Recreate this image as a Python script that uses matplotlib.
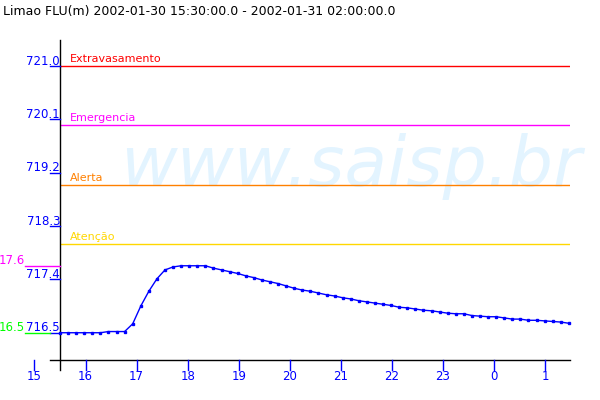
import pandas as pd
import matplotlib
matplotlib.use("Agg")
import matplotlib.pyplot as plt
from matplotlib.transforms import offset_copy

# river level readings, Limao FLU
times = pd.date_range("2002-01-30 15:30", "2002-01-31 01:28", periods=64)
level = [716.50, 716.50, 716.50, 716.50, 716.50, 716.50, 716.52, 716.52,
         716.52, 716.65, 716.95, 717.20, 717.41, 717.56, 717.61, 717.63,
         717.63, 717.63, 717.63, 717.59, 717.56, 717.53, 717.50, 717.46,
         717.43, 717.39, 717.36, 717.33, 717.29, 717.25, 717.22, 717.20,
         717.17, 717.14, 717.12, 717.09, 717.07, 717.04, 717.02, 717.00,
         716.98, 716.96, 716.93, 716.92, 716.90, 716.88, 716.87, 716.85,
         716.83, 716.82, 716.82, 716.79, 716.78, 716.77, 716.77, 716.75,
         716.73, 716.73, 716.71, 716.71, 716.70, 716.69, 716.68, 716.66]

alert_names = ["Extravasamento", "Emergencia", "Alerta", "Atenção"]
alert_levels = [721.0, 720.0, 719.0, 718.0]
alert_colors = ["#ff0000", "#ff00ff", "#ff8000", "#ffd700"]

ytick_vals = [721.0, 720.1, 719.2, 718.3, 717.4, 716.5]
hour_ticks = pd.date_range("2002-01-30 15:00", "2002-01-31 01:00", freq="h")
title = "Limao FLU(m) 2002-01-30 15:30:00.0 - 2002-01-31 02:00:00.0"
blue = "#0000ff"

fig = plt.figure(figsize=(6, 4), dpi=100)
ax = fig.add_axes([60 / 600, 40 / 400, 510 / 600, 320 / 400])
ax.set_ylim(716.04, 721.439)
ax.set_xlim(pd.Timestamp("2002-01-30 15:30"), pd.Timestamp("2002-01-31 01:29:24"))
ax.set_xticks([])
ax.set_yticks([])
for s in ax.spines.values():
    s.set_visible(False)

fig.text(3 / 600, 1 - 12 / 400, title, fontsize=9, va="center", ha="left")

# watermark
ax.text(120 / 600, 1 - 186 / 400, "www.saisp.br", transform=fig.transFigure,
        fontsize=50, style="italic", color="#e3f4ff", ha="left", va="baseline",
        zorder=0)

# axis lines
ax.plot([0, 0], [1, -10 / 320], color="black", lw=1, transform=ax.transAxes, clip_on=False)
ax.plot([-10 / 510, 1], [0, 0], color="black", lw=1, transform=ax.transAxes, clip_on=False)

# alert levels
for name, lev, col in zip(alert_names, alert_levels, alert_colors):
    ax.axhline(lev, color=col, lw=1, zorder=1)
    tr = offset_copy(ax.get_yaxis_transform(), fig=fig, y=4, units="dots")
    ax.text(10 / 510, lev, name, color=col, fontsize=8, transform=tr, va="baseline")

# y ticks
ytr = ax.get_yaxis_transform()
for v in ytick_vals:
    ax.plot([-10 / 510, 0], [v, v], color=blue, lw=1, transform=ytr, clip_on=False)
    tr = offset_copy(ytr, fig=fig, y=1.5, units="dots")
    ax.text(0, v, f"{v:.1f}", color=blue, fontsize=8.5, transform=tr,
            ha="right", va="baseline")

# max / min markers
vmax, vmin = max(level), min(level)
ax.plot([-35 / 510, 0], [vmax, vmax], color="#ff00ff", lw=1, transform=ytr, clip_on=False)
ax.plot([-35 / 510, -10 / 510], [vmin, vmin], color="#00ff00", lw=1, transform=ytr, clip_on=False)
tr = offset_copy(ytr, fig=fig, y=2, units="dots")
ax.text(-35 / 510, vmax, f"{vmax - 700:.1f}", color="#ff00ff", fontsize=8.5,
        transform=tr, ha="right", va="baseline")
ax.text(-35 / 510, vmin, f"{vmin - 700:.1f}", color="#00ff00", fontsize=8.5,
        transform=tr, ha="right", va="baseline")

# x ticks
xtr = ax.get_xaxis_transform()
for t in hour_ticks:
    ax.plot([t, t], [0, -10 / 320], color=blue, lw=1, transform=xtr, clip_on=False)
    ax.text(t, -16 / 320, str(t.hour), color=blue, fontsize=8.5, transform=xtr,
            ha="center", va="center")

ax.plot(times, level, color=blue, lw=1, marker="s", ms=1.6, zorder=3, clip_on=False)

fig.savefig("out.png", dpi=100)
